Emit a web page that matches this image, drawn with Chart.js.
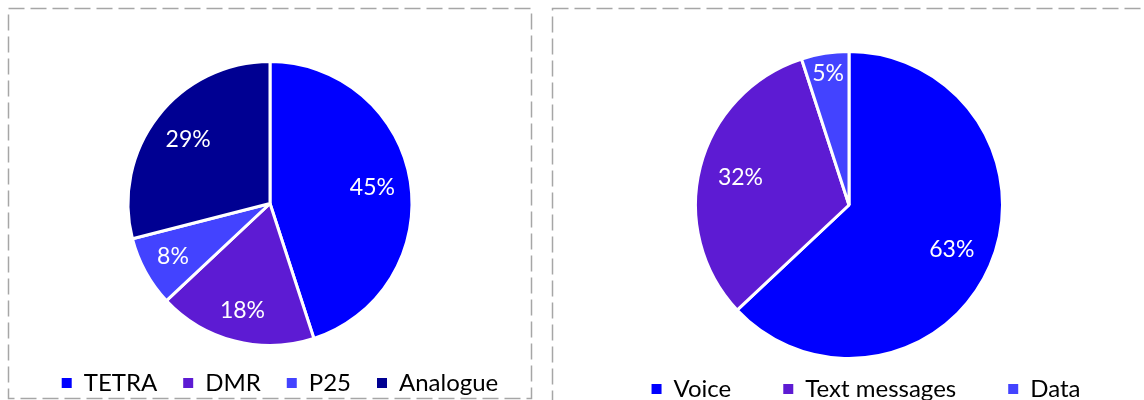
<!DOCTYPE html>
<html>
<head>
<meta charset="utf-8">
<script src="https://cdn.jsdelivr.net/npm/chart.js@4.4.1/dist/chart.umd.min.js"></script>
<style>
  html, body { margin: 0; padding: 0; background: #ffffff; }
  body { width: 1144px; height: 400px; position: relative; overflow: hidden; }
  canvas { position: absolute; top: 0; }
  #c1 { left: 0; }
  #c2 { left: 542px; }
</style>
</head>
<body>
<canvas id="c1" width="542" height="460"></canvas>
<canvas id="c2" width="602" height="460"></canvas>
<script>
// ---- data ----
const techLabels = ['TETRA', 'DMR', 'P25', 'Analogue'];
const techValues = [45, 18, 8, 29];
const usageLabels = ['Voice', 'Text messages', 'Data'];
const usageValues = [63, 32, 5];

// ---- styles ----
const techColors = ['#0000FF', '#5D1BD3', '#4343FF', '#000092'];
const usageColors = ['#0000FF', '#5D1BD3', '#4343FF'];
const FONT = 'Lato, "Open Sans", sans-serif';

const dashedBorder = {
  id: 'dashedBorder',
  beforeDraw(chart, args, opts) {
    const ctx = chart.ctx;
    ctx.save();
    ctx.strokeStyle = '#A6A6A6';
    ctx.lineWidth = 1.5;
    ctx.setLineDash([16, 6]);
    ctx.strokeRect(opts.x, opts.y, opts.w, opts.h);
    ctx.restore();
  }
};

const legendShift = {
  id: 'legendShift',
  afterLayout(chart, args, opts) {
    const lg = chart.legend;
    if (lg) {
      lg.top += opts.dy; lg.bottom += opts.dy;
      lg.left += opts.dx; lg.right += opts.dx;
    }
  }
};

const pctLabels = {
  id: 'pctLabels',
  afterDatasetsDraw(chart) {
    const ctx = chart.ctx;
    const meta = chart.getDatasetMeta(0);
    const data = chart.data.datasets[0].data;
    ctx.save();
    ctx.fillStyle = '#FFFFFF';
    ctx.font = '23px ' + FONT;
    ctx.textAlign = 'center';
    ctx.textBaseline = 'middle';
    meta.data.forEach((arc, i) => {
      const p = arc.getProps(['x', 'y', 'startAngle', 'endAngle', 'outerRadius'], true);
      const mid = (p.startAngle + p.endAngle) / 2;
      const v = data[i];
      const f = v >= 25 ? 0.73 : (v >= 6 ? 0.78 : 0.87);
      const r = p.outerRadius * f;
      ctx.fillText(v + '%', p.x + Math.cos(mid) * r, p.y + Math.sin(mid) * r);
    });
    ctx.restore();
  }
};

function makePie(id, labels, values, colors, pad, legendPad, shift, border) {
  return new Chart(document.getElementById(id), {
    type: 'pie',
    data: {
      labels: labels,
      datasets: [{
        data: values,
        backgroundColor: colors,
        borderColor: '#FFFFFF',
        borderWidth: 3,
        hoverBorderWidth: 3
      }]
    },
    options: {
      responsive: false,
      animation: false,
      devicePixelRatio: 1,
      layout: { padding: pad },
      plugins: {
        tooltip: { enabled: false },
        dashedBorder: border,
        legendShift: shift,
        legend: {
          display: true,
          position: 'bottom',
          labels: {
            boxWidth: 10,
            boxHeight: 10,
            padding: legendPad,
            color: '#000000',
            font: { family: FONT, size: 24 },
            generateLabels(chart) {
              const ds = chart.data.datasets[0];
              return chart.data.labels.map((t, i) => ({
                text: t,
                fillStyle: ds.backgroundColor[i],
                strokeStyle: ds.backgroundColor[i],
                lineWidth: 0,
                fontColor: '#000000',
                hidden: false,
                index: i
              }));
            }
          }
        }
      }
    },
    plugins: [dashedBorder, legendShift, pctLabels]
  });
}

makePie('c1', techLabels, techValues, techColors,
  { left: 0, right: 2, top: 60, bottom: 53 }, 26, { dx: 10, dy: -2 },
  { x: 8.5, y: 8.5, w: 523, h: 390 });
makePie('c2', usageLabels, usageValues, usageColors,
  { left: 12, right: 0, top: 50, bottom: 14 }, 52, { dx: 17, dy: -35 },
  { x: 10.5, y: 8.5, w: 700, h: 500 });
</script>
</body>
</html>
